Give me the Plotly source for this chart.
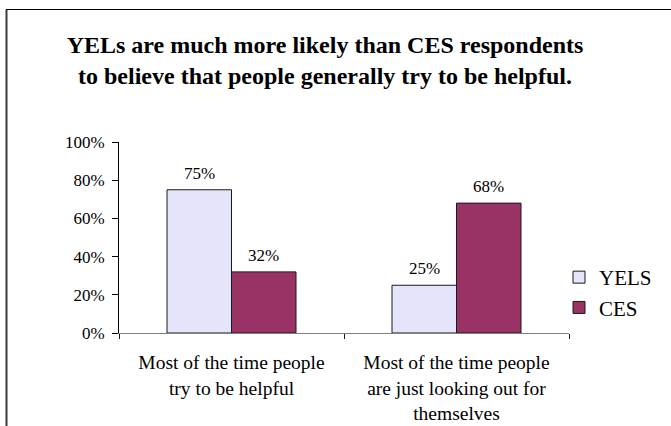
import plotly.graph_objects as go

# Survey responses: share of each group choosing each statement
categories = [
    "Most of the time people<br>try to be helpful",
    "Most of the time people<br>are just looking out for<br>themselves",
]
series_names = ["YELS", "CES"]
yels_values = [0.75, 0.25]
ces_values = [0.32, 0.68]
y_ticks = [0, 0.2, 0.4, 0.6, 0.8, 1.0]

title_text = ("YELs are much more likely than CES respondents<br>"
              "to believe that people generally try to be helpful.")

serif = "Liberation Serif"
colors = {"YELS": "#E4E4FB", "CES": "#993366"}

fig = go.Figure()
for name, vals in zip(series_names, [yels_values, ces_values]):
    fig.add_trace(go.Bar(
        name=name,
        x=categories,
        y=vals,
        marker=dict(color=colors[name], line=dict(color="#1a1a1a", width=1)),
        legendgroup=name,
    ))

# Value labels above each bar
bar_px = 64.5
for i, (name, vals) in enumerate(zip(series_names, [yels_values, ces_values])):
    offset = (-bar_px / 2) if i == 0 else (bar_px / 2)
    for cat, v in zip(categories, vals):
        fig.add_annotation(
            x=cat, y=v, xref="x", yref="y",
            text=f"{round(v * 100)}%",
            showarrow=False, xshift=offset, yshift=5,
            yanchor="bottom",
            font=dict(family=serif, size=17, color="black"),
        )

W, H = 671, 426
ml, mr, mt, mb = 119, 102, 142, 93
pw, ph = W - ml - mr, H - mt - mb


def px_x(x):
    return (x - ml) / pw


def px_y(y):
    return (H - mb - y) / ph


# Outer chart frame (left and top edges visible)
fig.add_shape(type="line", xref="paper", yref="paper",
              x0=px_x(6.5), x1=px_x(6.5), y0=px_y(9.5), y1=px_y(440),
              line=dict(color="#3a3a3a", width=2))
fig.add_shape(type="line", xref="paper", yref="paper",
              x0=px_x(6), x1=px_x(690), y0=px_y(9.5), y1=px_y(9.5),
              line=dict(color="black", width=1.2))

fig.update_layout(
    width=W, height=H,
    margin=dict(l=ml, r=mr, t=mt, b=mb, autoexpand=False),
    paper_bgcolor="white", plot_bgcolor="white",
    barmode="group", bargap=0.4267, bargroupgap=0,
    font=dict(family=serif, color="black"),
    title=dict(
        text=f"<b>{title_text}</b>",
        font=dict(family=serif, size=24, color="black"),
        x=px_x(325), xref="paper", xanchor="center",
        y=1 - 53 / H, yref="container", yanchor="middle",
    ),
    legend=dict(
        x=px_x(559), y=px_y(257), xanchor="left", yanchor="top",
        font=dict(family=serif, size=21, color="black"),
        bgcolor="rgba(0,0,0,0)", borderwidth=0,
        itemwidth=30, tracegroupgap=0,
    ),
    xaxis=dict(
        showline=True, linecolor="#808080", linewidth=1,
        ticks="outside", ticklen=5, tickcolor="#1a1a1a",
        tickson="boundaries",
        tickfont=dict(family=serif, size=19.5, color="black"),
        ticklabelstandoff=12, automargin=False,
        showgrid=False, zeroline=False,
    ),
    yaxis=dict(
        range=[0, 1], tickvals=y_ticks, tickformat=".0%",
        showline=True, linecolor="black", linewidth=1,
        ticks="outside", ticklen=6, tickcolor="black",
        tickfont=dict(family=serif, size=17, color="black"),
        ticklabelstandoff=4, automargin=False,
        showgrid=False, zeroline=False,
    ),
    showlegend=True,
)

fig.write_html("out.html")
